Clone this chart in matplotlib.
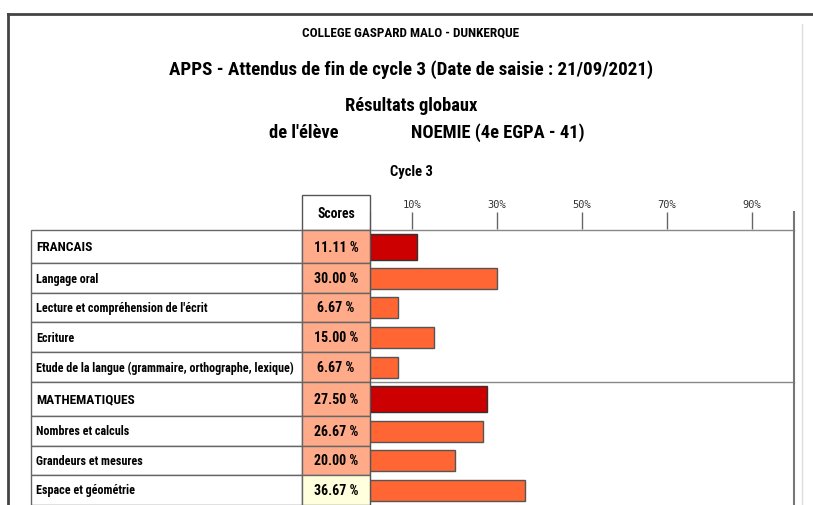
import numpy as np
import matplotlib.pyplot as plt
from matplotlib import font_manager
from matplotlib.patches import Rectangle

# data
labels = ['FRANCAIS', 'Langage oral', "Lecture et compréhension de l'écrit", 'Ecriture',
          'Etude de la langue (grammaire, orthographe, lexique)', 'MATHEMATIQUES',
          'Nombres et calculs', 'Grandeurs et mesures', 'Espace et géométrie']
scores = [11.11, 30.00, 6.67, 15.00, 6.67, 27.50, 26.67, 20.00, 36.67]
is_domain = [True, False, False, False, False, True, False, False, False]
ticks = [10, 30, 50, 70, 90]

# pick a narrow font if one is installed
flist = font_manager.fontManager.ttflist
names = {f.name for f in flist}
stretch = 'normal'
fam = None
for cand in ['Liberation Sans Narrow', 'Roboto Condensed', 'Open Sans Condensed',
             'Noto Sans Condensed', 'Arial Narrow']:
    if cand in names:
        fam = cand
        break
if fam is None:
    condensed = [f for f in flist if f.stretch in ('condensed', 'semi-condensed')
                 or 'Condensed' in f.fname]
    if condensed:
        fam = condensed[0].name
        stretch = 'condensed'
    else:
        fam = 'Roboto'
plt.rcParams['font.family'] = [fam, 'DejaVu Sans']
plt.rcParams['font.stretch'] = stretch

W, H = 813, 506
fig = plt.figure(figsize=(W / 100, H / 100), dpi=100)

# background layer in pixel coords
bg = fig.add_axes([0, 0, 1, 1])
bg.set_xlim(0, W)
bg.set_ylim(H, 0)
bg.axis('off')

# page frame
bg.plot([8, W], [15, 15], color='#444444', lw=2)
bg.plot([8, 8], [15, H], color='#444444', lw=2)
bg.plot([802, 802], [25, H], color='#dddddd', lw=1)

# titles
bg.text(411, 33, 'COLLEGE GASPARD MALO - DUNKERQUE', ha='center', va='center',
        fontsize=9.5, fontweight='bold', color='black')
bg.text(411, 70, 'APPS - Attendus de fin de cycle 3 (Date de saisie : 21/09/2021)',
        ha='center', va='center', fontsize=13.7, fontweight='bold', color='black')
bg.text(411, 106, 'Résultats globaux', ha='center', va='center',
        fontsize=13.3, fontweight='bold', color='black')
bg.text(338, 133, "de l'élève", ha='right', va='center',
        fontsize=13.3, fontweight='bold', color='black')
bg.text(411, 133, 'NOEMIE (4e EGPA - 41)', ha='left', va='center',
        fontsize=13.3, fontweight='bold', color='black')
bg.text(411, 172, 'Cycle 3', ha='center', va='center',
        fontsize=10.5, fontweight='bold', color='black')

# table layout
x_lab, x_sc, x_bar, x_end = 31, 302, 370, 794
row_h = [33, 30, 29, 30, 30, 34, 30, 29, 30]
edges = 231 + np.concatenate([[0], np.cumsum(row_h)])
centers = (edges[:-1] + edges[1:]) / 2

# Scores header
bg.add_patch(Rectangle((x_sc, 196), x_bar - x_sc, 231 - 196, facecolor='white',
                       edgecolor='#555555', lw=1))
bg.text((x_sc + x_bar) / 2, 214, 'Scores', ha='center', va='center',
        fontsize=9.8, fontweight='bold', color='black')

for i in range(len(labels)):
    y0, y1 = edges[i], edges[i + 1]
    bg.add_patch(Rectangle((x_lab, y0), x_sc - x_lab, y1 - y0, facecolor='white',
                           edgecolor='#666666', lw=1))
    cell = '#ffffdd' if scores[i] > 33.33 else '#ffaa88'
    bg.add_patch(Rectangle((x_sc, y0), x_bar - x_sc, y1 - y0, facecolor=cell,
                           edgecolor='#666666', lw=1))
    bg.text(x_lab + 5, centers[i], labels[i], ha='left', va='center',
            fontsize=9.6 if is_domain[i] else 8.7, fontweight='bold', color='black')
    bg.text((x_sc + x_bar) / 2, centers[i], f'{scores[i]:.2f} %', ha='center',
            va='center', fontsize=10, fontweight='bold', color='black')
    if is_domain[i]:
        bg.plot([x_bar, x_end], [y0, y0], color='#888888', lw=1)

# bar chart
ax = fig.add_axes([x_bar / W, 0, (x_end - x_bar) / W, (H - 213) / H])
ax.set_facecolor('none')
ax.set_xlim(0, 100)
ax.set_ylim(H, 213)
colors = ['#cc0000' if d else '#ff6633' for d in is_domain]
ecols = ['#333333' if d else '#555555' for d in is_domain]
heights = [26 if d else 21 for d in is_domain]
ax.barh(centers, scores, height=heights, color=colors, edgecolor=ecols, lw=1)

ax.xaxis.tick_top()
ax.set_xticks(ticks, [f'{t}%' for t in ticks], family='DejaVu Sans Mono',
              fontsize=7.5, color='#333333')
ax.tick_params(axis='x', direction='in', length=12.2, width=1, color='#666666', pad=2)
ax.set_yticks([])
ax.spines['top'].set_visible(False)
ax.spines['bottom'].set_visible(False)
ax.spines['left'].set_color('#555555')
ax.spines['right'].set_color('#777777')
ax.spines['right'].set_linewidth(1.5)

plt.savefig('out.png', dpi=100)
